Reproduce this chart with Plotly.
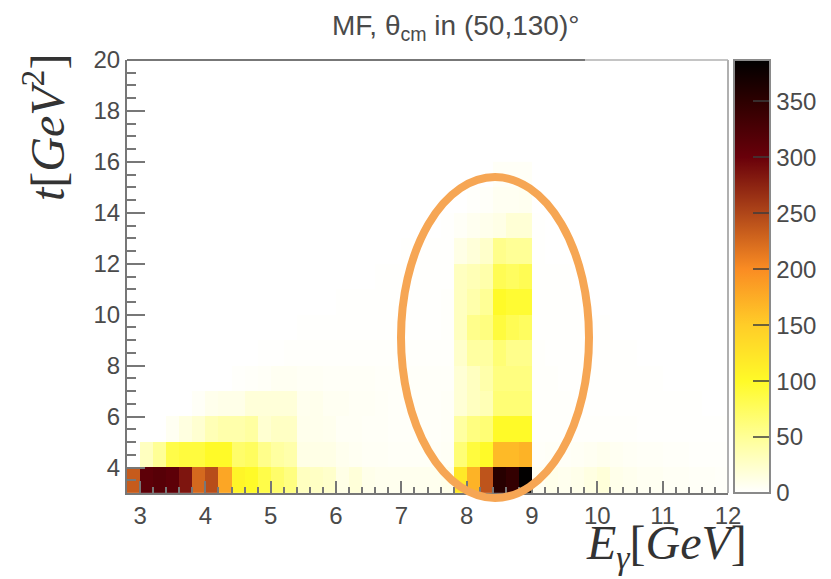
import plotly.graph_objects as go

# Histogram bins: 0.2 GeV wide in E_gamma from 2.8 to 12, 1 GeV^2 high in t from 3 to 20
t3 = [235,310,315,310,285, 225,245,180,105,100, 85,70,60,30,28, 25,12,18,10,8, 8,8,8,8,10, 120,170,240,355,345,385, 6,10,8,10,14, 18,10,8,6,6, 5,5,4,4,3]
t4 = [0,30,50,85,90, 90,100,100,70,75, 55,45,40,12,12, 12,8,6,5,5, 4,4,4,4,5, 65,90,100,165,165,170, 3,4,4,5,6, 8,6,5,4,4, 3,3,2,2,2]
t5 = [0,0,0,6,15, 22,35,40,40,45, 22,28,28,9,9, 8,5,5,4,4, 3,3,3,3,4, 45,60,65,100,100,100, 2,2,2,2,2, 2,2,2,1,1, 1,1,1,1,1]
t6 = [0,0,0,0,0, 4,9,11,11,18, 18,18,18,8,9, 6,6,5,5,4, 3,3,3,3,4, 20,30,35,65,65,65, 2,2,2,1,1, 1,1,1,1,1, 1,1,1,0,0]
t7 = [0,0,0,0,0, 0,0,0,2,3, 4,6,6,5,5, 4,4,4,4,3, 3,3,3,3,3, 20,30,40,60,60,60, 2,2,1,1,1, 1,1,1,1,1, 0,0,0,0,0]
t8 = [0,0,0,0,0, 0,0,0,0,0, 1,1,2,2,2, 2,2,2,2,2, 2,2,2,2,2, 25,45,45,65,55,55, 2,1,1,1,1, 1,1,1,0,0, 0,0,0,0,0]
t9 = [0,0,0,0,0, 0,0,0,0,0, 0,0,0,1,1, 1,1,1,1,1, 1,1,1,1,2, 30,55,60,90,80,75, 1,1,1,1,1, 1,0,0,0,0, 0,0,0,0,0]
t10 = [0,0,0,0,0, 0,0,0,0,0, 0,0,0,0,0, 0,1,1,1,1, 1,1,1,1,2, 30,40,50,100,95,95, 1,1,1,1,0, 0,0,0,0,0, 0,0,0,0,0]
t11 = [0,0,0,0,0, 0,0,0,0,0, 0,0,0,0,0, 0,0,0,0,1, 1,1,1,1,1, 30,35,40,80,75,80, 1,1,1,0,0, 0,0,0,0,0, 0,0,0,0,0]
t12 = [0,0,0,0,0, 0,0,0,0,0, 0,0,0,0,0, 0,0,0,0,0, 0,1,1,1,1, 12,18,25,55,50,50, 1,0,0,0,0, 0,0,0,0,0, 0,0,0,0,0]
t13 = [0,0,0,0,0, 0,0,0,0,0, 0,0,0,0,0, 0,0,0,0,0, 0,0,0,0,1, 4,7,9,12,20,20, 1,0,0,0,0, 0,0,0,0,0, 0,0,0,0,0]
t14 = [0,0,0,0,0, 0,0,0,0,0, 0,0,0,0,0, 0,0,0,0,0, 0,0,0,0,0, 0,2,3,6,6,7, 0,0,0,0,0, 0,0,0,0,0, 0,0,0,0,0]
t15 = [0,0,0,0,0, 0,0,0,0,0, 0,0,0,0,0, 0,0,0,0,0, 0,0,0,0,0, 0,0,0,4,4,4, 0,0,0,0,0, 0,0,0,0,0, 0,0,0,0,0]
counts = [t3, t4, t5, t6, t7, t8, t9, t10, t11, t12, t13, t14, t15]

z_max = 387
color_stops = [
    (0, "rgb(255,255,255)"), (50, "rgb(255,255,150)"), (100, "rgb(255,250,40)"),
    (150, "rgb(255,205,40)"), (200, "rgb(250,140,35)"), (250, "rgb(175,70,25)"),
    (300, "rgb(105,0,10)"), (350, "rgb(45,0,0)"), (387, "rgb(0,0,0)"),
]

OFFSET = 8  # the page's own margin around the figure
W, H = 831 - OFFSET, 579 - OFFSET
L, R, T, B = 127 - OFFSET, 728 - OFFSET, 60 - OFFSET, 493 - OFFSET
INK = "#4a4a4a"
AXIS = "#777777"
SANS = "Liberation Sans, Arial, sans-serif"
SERIF = "Liberation Serif, Times New Roman, serif"

def px(x):
    return (x - OFFSET - L) / (R - L)

def py(y):
    return (B - (y - OFFSET)) / (B - T)

fig = go.Figure(go.Heatmap(
    z=counts, x0=2.9, dx=0.2, y0=3.5, dy=1,
    zmin=0, zmax=z_max,
    colorscale=[[v / z_max, c] for v, c in color_stops],
    hoverinfo="skip",
    colorbar=dict(
        x=px(734), xanchor="left", xpad=0, y=0, yanchor="bottom", ypad=0,
        len=1, lenmode="fraction", thickness=36, thicknessmode="pixels",
        outlinecolor="#8a8a8a", outlinewidth=2, borderwidth=0,
        ticks="inside", ticklen=18, tickwidth=2, tickcolor="rgba(60,60,60,0.75)",
        tick0=0, dtick=50, tickfont=dict(family=SANS, size=24, color=INK),
    ),
))

fig.update_layout(
    width=W, height=H,
    margin=dict(l=L, r=W - R, t=T, b=H - B, pad=0, autoexpand=False),
    paper_bgcolor="white", plot_bgcolor="white",
    xaxis=dict(
        range=[2.8, 12], tick0=3, dtick=1, ticks="inside", ticklen=12, tickwidth=2,
        tickcolor=AXIS, showline=True, linecolor=AXIS, linewidth=2, showgrid=False, zeroline=False,
        tickfont=dict(family=SANS, size=24, color=INK),
        minor=dict(tick0=3, dtick=0.2, ticks="inside", ticklen=6, tickwidth=2, tickcolor=AXIS, showgrid=False),
    ),
    yaxis=dict(
        range=[3, 20], tick0=0, dtick=2, ticks="inside", ticklen=18, tickwidth=2,
        tickcolor=AXIS, showline=True, linecolor=AXIS, linewidth=2, showgrid=False, zeroline=False,
        tickfont=dict(family=SANS, size=24, color=INK),
        minor=dict(tick0=0, dtick=0.5, ticks="inside", ticklen=9, tickwidth=2, tickcolor=AXIS, showgrid=False),
    ),
    shapes=[
        dict(type="line", xref="paper", yref="paper", x0=0, x1=px(585), y0=1, y1=1,
             line=dict(color=AXIS, width=2)),
        dict(type="line", xref="paper", yref="paper", x0=px(585), x1=1, y0=1, y1=1,
             line=dict(color="#c4c4c4", width=2)),
        dict(type="line", xref="paper", yref="paper", x0=1, x1=1, y0=0, y1=1,
             line=dict(color="#b0b0b0", width=2)),
        dict(type="circle", xref="paper", yref="paper", layer="above",
             x0=px(401), x1=px(589), y0=py(498), y1=py(177),
             line=dict(color="#F6A654", width=8), fillcolor="rgba(0,0,0,0)"),
    ],
    annotations=[
        dict(text="MF, θ<sub>cm</sub> in (50,130)°", xref="paper", yref="paper",
             x=px(455), y=py(27), xanchor="center", yanchor="middle", showarrow=False,
             font=dict(family=SANS, size=28, color=INK)),
        dict(text="<i>E</i><sub><i>γ</i></sub>[<i>GeV</i>]", xref="paper", yref="paper",
             x=px(666), y=py(546), xanchor="center", yanchor="middle", showarrow=False,
             font=dict(family=SERIF, size=48, color="#333333")),
        dict(text="<i>t</i>[<i>GeV</i><sup>2</sup>]", xref="paper", yref="paper",
             x=px(44), y=py(128), xanchor="center", yanchor="middle", showarrow=False,
             textangle=-90, font=dict(family=SERIF, size=48, color="#333333")),
    ],
)

fig.write_html("out.html")
